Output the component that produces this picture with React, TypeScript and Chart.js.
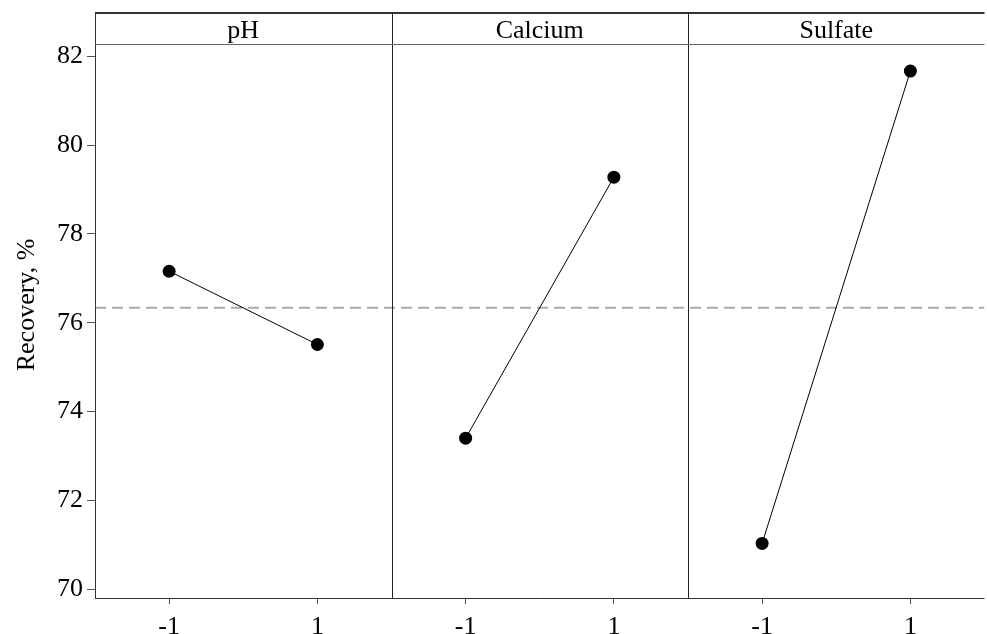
import { useEffect, useRef } from 'react';
import { Chart, registerables } from 'chart.js';

Chart.register(...registerables);

// ---- data ----
const factors = ['pH', 'Calcium', 'Sulfate'];
const levels = [-1, 1];
const phMeans = [77.16, 75.51];
const calciumMeans = [73.4, 79.28];
const sulfateMeans = [71.03, 81.67];
const grandMean = 76.34;
const yTickValues = [70, 72, 74, 76, 78, 80, 82];
const levelLabels = ['-1', '1'];

const seriesMeans = [phMeans, calciumMeans, sulfateMeans];
const PANEL_SPAN = 4; // each panel spans level range [-2, 2]
const panelPos = (panel: number, level: number) => panel * PANEL_SPAN + PANEL_SPAN / 2 + level;

const xTickPositions: number[] = [];
const xTickLabels: string[] = [];
factors.forEach((_, p) => {
  levels.forEach((lv, i) => {
    xTickPositions.push(panelPos(p, lv));
    xTickLabels.push(levelLabels[i]);
  });
});

const FONT = "'Liberation Serif', 'Times New Roman', serif";

const framePlugin = {
  id: 'frame',
  afterDraw(chart: any) {
    const { ctx, chartArea, scales } = chart;
    const { left, right, top, bottom } = chartArea;
    const x = scales.x;
    const line = (x1: number, y1: number, x2: number, y2: number) => {
      ctx.beginPath();
      ctx.moveTo(x1, y1);
      ctx.lineTo(x2, y2);
      ctx.stroke();
    };
    ctx.save();
    ctx.strokeStyle = '#333333';
    ctx.lineWidth = 1;
    line(left + 0.5, top, left + 0.5, bottom + 1);
    line(left, bottom + 0.5, right, bottom + 0.5);
    ctx.lineWidth = 2;
    line(left, top + 1, right, top + 1);
    ctx.lineWidth = 1;
    ctx.strokeStyle = '#222222';
    for (let p = 1; p < factors.length; p++) {
      const px = Math.round(x.getPixelForValue(p * PANEL_SPAN)) + 0.5;
      line(px, top, px, bottom);
    }
    ctx.strokeStyle = '#666666';
    const headerY = top + 32.5;
    line(left, headerY, right, headerY);
    ctx.fillStyle = '#000';
    ctx.font = `26px ${FONT}`;
    ctx.textAlign = 'center';
    ctx.textBaseline = 'alphabetic';
    factors.forEach((f, p) => {
      const cx = x.getPixelForValue(p * PANEL_SPAN + PANEL_SPAN / 2);
      ctx.fillText(f, cx, top + 26);
    });
    ctx.restore();
  },
};

export default function App() {
  const ref = useRef<HTMLCanvasElement>(null);
  useEffect(() => {
    const canvas = ref.current!;
    const datasets: any[] = seriesMeans.map((vals, p) => ({
      label: factors[p],
      data: levels.map((lv, i) => ({ x: panelPos(p, lv), y: vals[i] })),
      borderColor: '#000',
      backgroundColor: '#000',
      borderWidth: 1,
      pointRadius: 6.5,
      pointBorderWidth: 0,
      pointBackgroundColor: '#000',
      showLine: true,
      order: 1,
    }));
    datasets.push({
      label: 'Mean',
      data: [
        { x: 0, y: grandMean },
        { x: factors.length * PANEL_SPAN, y: grandMean },
      ],
      borderColor: '#aaaaaa',
      borderWidth: 2,
      borderDash: [11, 6],
      pointRadius: 0,
      showLine: true,
      order: 10,
    });
    const chart = new Chart(canvas, {
      type: 'scatter',
      data: { datasets },
      plugins: [framePlugin],
      options: {
        responsive: false,
        animation: false,
        devicePixelRatio: 1,
        layout: { padding: { left: 0, top: 12, right: 2, bottom: 0 } },
        plugins: {
          legend: { display: false },
          tooltip: { enabled: false },
        },
        scales: {
          x: {
            type: 'linear',
            min: 0,
            max: factors.length * PANEL_SPAN,
            afterFit: (s: any) => {
              s.height = 36;
              s.paddingLeft = 0;
              s.paddingRight = 0;
            },
            afterBuildTicks: (s: any) => {
              s.ticks = xTickPositions.map((v) => ({ value: v }));
            },
            ticks: {
              autoSkip: false,
              maxRotation: 0,
              padding: 8,
              color: '#000',
              font: { family: FONT, size: 26 },
              callback: (_v: any, i: number) => xTickLabels[i],
            },
            grid: {
              display: true,
              drawOnChartArea: false,
              drawTicks: true,
              tickLength: 6,
              color: '#555',
            },
            border: { display: false },
          },
          y: {
            type: 'linear',
            min: 69.8,
            max: 83,
            afterFit: (s: any) => {
              s.width = 95;
              s.paddingTop = 0;
              s.paddingBottom = 0;
            },
            afterBuildTicks: (s: any) => {
              s.ticks = yTickValues.map((v) => ({ value: v }));
            },
            ticks: {
              padding: 4,
              color: '#000',
              font: { family: FONT, size: 26 },
              callback: (v: any) => String(v),
            },
            grid: {
              display: true,
              drawOnChartArea: false,
              drawTicks: true,
              tickLength: 8,
              color: '#555',
            },
            border: { display: false },
            title: {
              display: true,
              text: 'Recovery, %',
              color: '#000',
              font: { family: FONT, size: 26, lineHeight: 1 },
              padding: { top: 14, bottom: 0 },
            },
          },
        },
      },
    });
    return () => chart.destroy();
  }, []);
  return (
    <div
      style={{
        position: 'fixed',
        left: 0,
        top: 0,
        width: 987,
        height: 634,
        overflow: 'hidden',
        background: '#fff',
      }}
    >
      <canvas ref={ref} width={991} height={634} style={{ display: 'block', width: 991, height: 634 }} />
    </div>
  );
}
